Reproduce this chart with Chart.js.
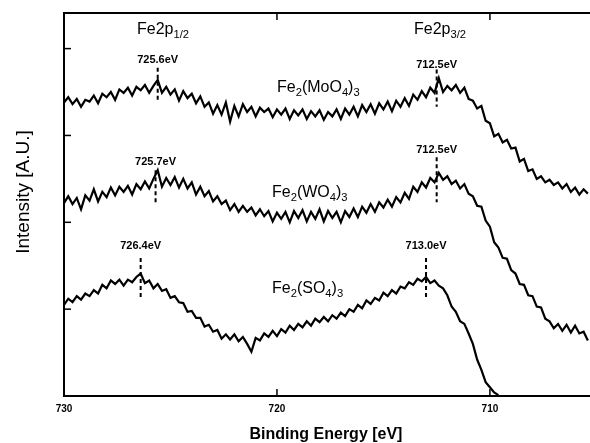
<!DOCTYPE html>
<html>
<head>
<meta charset="utf-8">
<script src="https://cdn.jsdelivr.net/npm/chart.js@4.4.1/dist/chart.umd.min.js"></script>
<style>
  html, body { margin: 0; padding: 0; background: #fff; }
  #wrap { width: 590px; height: 443px; position: relative; }
</style>
</head>
<body>
<div id="wrap"><canvas id="xps"></canvas></div>
<script>
// binding energy grid, eV (0.2 eV steps)
var energy = [
  730.0, 729.8, 729.6, 729.4, 729.2, 729.0, 728.8, 728.6, 728.4, 728.2,
  728.0, 727.8, 727.6, 727.4, 727.2, 727.0, 726.8, 726.6, 726.4, 726.2,
  726.0, 725.8, 725.6, 725.4, 725.2, 725.0, 724.8, 724.6, 724.4, 724.2,
  724.0, 723.8, 723.6, 723.4, 723.2, 723.0, 722.8, 722.6, 722.4, 722.2,
  722.0, 721.8, 721.6, 721.4, 721.2, 721.0, 720.8, 720.6, 720.4, 720.2,
  720.0, 719.8, 719.6, 719.4, 719.2, 719.0, 718.8, 718.6, 718.4, 718.2,
  718.0, 717.8, 717.6, 717.4, 717.2, 717.0, 716.8, 716.6, 716.4, 716.2,
  716.0, 715.8, 715.6, 715.4, 715.2, 715.0, 714.8, 714.6, 714.4, 714.2,
  714.0, 713.8, 713.6, 713.4, 713.2, 713.0, 712.8, 712.6, 712.4, 712.2,
  712.0, 711.8, 711.6, 711.4, 711.2, 711.0, 710.8, 710.6, 710.4, 710.2,
  710.0, 709.8, 709.6, 709.4, 709.2, 709.0, 708.8, 708.6, 708.4, 708.2,
  708.0, 707.8, 707.6, 707.4, 707.2, 707.0, 706.8, 706.6, 706.4, 706.2,
  706.0, 705.8, 705.6, 705.4
];

var moo4 = [
  3.38, 3.44, 3.36, 3.42, 3.33, 3.41, 3.39, 3.46, 3.37, 3.48,
  3.44, 3.50, 3.41, 3.53, 3.49, 3.55, 3.46, 3.56, 3.52, 3.58,
  3.49, 3.57, 3.64, 3.49, 3.56, 3.47, 3.53, 3.40, 3.51, 3.43,
  3.48, 3.37, 3.45, 3.33, 3.38, 3.25, 3.35, 3.24, 3.38, 3.16,
  3.34, 3.22, 3.36, 3.27, 3.33, 3.22, 3.32, 3.27, 3.31, 3.21,
  3.30, 3.24, 3.31, 3.19, 3.29, 3.23, 3.30, 3.19, 3.28, 3.22,
  3.29, 3.18, 3.27, 3.22, 3.30, 3.19, 3.31, 3.24, 3.33, 3.22,
  3.35, 3.27, 3.36, 3.25, 3.37, 3.30, 3.39, 3.28, 3.40, 3.33,
  3.43, 3.34, 3.47, 3.41, 3.51, 3.44, 3.55, 3.49, 3.66, 3.50,
  3.57, 3.52, 3.58, 3.49, 3.55, 3.42, 3.40, 3.31, 3.34, 3.17,
  3.14, 2.99, 3.02, 2.92, 2.95, 2.85, 2.86, 2.70, 2.73, 2.59,
  2.61, 2.50, 2.53, 2.46, 2.49, 2.43, 2.46, 2.39, 2.44, 2.35,
  2.40, 2.32, 2.38, 2.33
];

var wo4 = [
  2.22, 2.30, 2.21, 2.28, 2.15, 2.31, 2.25, 2.38, 2.24, 2.35,
  2.29, 2.40, 2.31, 2.41, 2.35, 2.42, 2.32, 2.44, 2.38, 2.47,
  2.39, 2.50, 2.60, 2.41, 2.51, 2.43, 2.52, 2.40, 2.50, 2.39,
  2.46, 2.32, 2.41, 2.30, 2.36, 2.24, 2.30, 2.21, 2.25, 2.14,
  2.21, 2.12, 2.19, 2.12, 2.17, 2.08, 2.15, 2.07, 2.13, 2.01,
  2.11, 2.04, 2.12, 2.00, 2.13, 2.05, 2.14, 2.01, 2.12, 2.04,
  2.15, 2.01, 2.13, 2.05, 2.12, 2.00, 2.13, 2.06, 2.16, 2.06,
  2.18, 2.11, 2.21, 2.12, 2.23, 2.17, 2.26, 2.18, 2.29, 2.23,
  2.34, 2.27, 2.41, 2.35, 2.46, 2.40, 2.51, 2.46, 2.57, 2.49,
  2.53, 2.44, 2.48, 2.39, 2.44, 2.33, 2.30, 2.19, 2.18, 2.02,
  1.95, 1.77, 1.71, 1.59, 1.58, 1.45, 1.41, 1.29, 1.28, 1.16,
  1.15, 1.03, 1.02, 0.89, 0.86, 0.78, 0.83, 0.75, 0.82, 0.73,
  0.81, 0.72, 0.74, 0.64
];

var so4 = [
  1.05, 1.12, 1.08, 1.15, 1.11, 1.18, 1.15, 1.22, 1.18, 1.28,
  1.24, 1.33, 1.29, 1.34, 1.27, 1.34, 1.31, 1.37, 1.41, 1.30,
  1.33, 1.24, 1.29, 1.21, 1.23, 1.13, 1.15, 1.08, 1.07, 0.97,
  0.98, 0.90, 0.90, 0.80, 0.82, 0.74, 0.76, 0.66, 0.71, 0.65,
  0.71, 0.63, 0.68, 0.60, 0.51, 0.67, 0.64, 0.72, 0.68, 0.75,
  0.69, 0.77, 0.73, 0.81, 0.76, 0.83, 0.79, 0.86, 0.81, 0.89,
  0.85, 0.91, 0.86, 0.93, 0.89, 0.96, 0.92, 1.00, 0.97, 1.05,
  1.01, 1.10, 1.06, 1.13, 1.10, 1.19, 1.15, 1.22, 1.18, 1.26,
  1.24, 1.31, 1.28, 1.35, 1.32, 1.37, 1.30, 1.33, 1.27, 1.24,
  1.16, 1.03, 0.97, 0.86, 0.83, 0.72, 0.60, 0.42, 0.30, 0.16,
  0.10, 0.04, 0.01
];

// marked peak positions, eV
var peakMoO4 = [725.6, 712.5];
var peakWO4 = [725.7, 712.5];
var peakSO4 = [726.4, 713.0];
var xTicks = [730, 720, 710];
var yTicks = [1, 2, 3, 4];

function toPoints(vals) {
  var pts = [];
  for (var i = 0; i < vals.length; i++) pts.push({ x: energy[i], y: vals[i] });
  return pts;
}

var FONT = '"Liberation Sans", Arial, sans-serif';

// text with subscripts: parts = [[text, isSub], ...]
function richText(ctx, parts, x, y, size) {
  var cx = x;
  parts.forEach(function(p) {
    var s = p[1] ? size * 0.7 : size;
    ctx.font = s + 'px ' + FONT;
    ctx.fillText(p[0], cx, p[1] ? y + size * 0.25 : y);
    cx += ctx.measureText(p[0]).width;
  });
}

var decorPlugin = {
  id: 'decor',
  afterDraw: function(chart) {
    var ctx = chart.ctx;
    var a = chart.chartArea;
    var xs = chart.scales.x, ys = chart.scales.y;
    ctx.save();
    ctx.strokeStyle = '#000';
    ctx.fillStyle = '#000';

    // frame
    ctx.lineWidth = 2;
    ctx.beginPath();
    ctx.moveTo(a.right + 2, a.top);
    ctx.lineTo(a.left, a.top);
    ctx.lineTo(a.left, a.bottom);
    ctx.lineTo(a.right + 2, a.bottom);
    ctx.stroke();

    // inward ticks
    ctx.lineWidth = 1.5;
    xTicks.forEach(function(t) {
      var px = xs.getPixelForValue(t);
      ctx.beginPath();
      ctx.moveTo(px, a.bottom); ctx.lineTo(px, a.bottom - 7);
      ctx.moveTo(px, a.top); ctx.lineTo(px, a.top + 7);
      ctx.stroke();
    });
    yTicks.forEach(function(t) {
      var py = ys.getPixelForValue(t);
      ctx.beginPath();
      ctx.moveTo(a.left, py); ctx.lineTo(a.left + 7, py);
      ctx.stroke();
    });

    // peak markers: [energy, label y, dash top, dash bottom]
    var marks = [
      [peakMoO4[0], 3.83, 3.78, 3.41],
      [peakMoO4[1], 3.78, 3.76, 3.33],
      [peakWO4[0], 2.66, 2.60, 2.20],
      [peakWO4[1], 2.80, 2.75, 2.23],
      [peakSO4[0], 1.69, 1.59, 1.11],
      [peakSO4[1], 1.69, 1.59, 1.12]
    ];
    ctx.textAlign = 'center';
    ctx.textBaseline = 'alphabetic';
    marks.forEach(function(m) {
      var px = xs.getPixelForValue(m[0]);
      ctx.font = 'bold 11px ' + FONT;
      ctx.fillText(m[0].toFixed(1) + 'eV', px, ys.getPixelForValue(m[1]));
      ctx.setLineDash([4, 3]);
      ctx.lineWidth = 2;
      ctx.beginPath();
      ctx.moveTo(px, ys.getPixelForValue(m[2]));
      ctx.lineTo(px, ys.getPixelForValue(m[3]));
      ctx.stroke();
      ctx.setLineDash([]);
    });

    // level headers
    ctx.textAlign = 'left';
    richText(ctx, [['Fe2p', false], ['1/2', true]], 137, 34, 16);
    richText(ctx, [['Fe2p', false], ['3/2', true]], 414, 34, 16);

    // compound names
    richText(ctx, [['Fe', false], ['2', true], ['(MoO', false], ['4', true], [')', false], ['3', true]], 277, 92, 16);
    richText(ctx, [['Fe', false], ['2', true], ['(WO', false], ['4', true], [')', false], ['3', true]], 272, 197, 16);
    richText(ctx, [['Fe', false], ['2', true], ['(SO', false], ['4', true], [')', false], ['3', true]], 272, 293, 16);

    // axis titles
    ctx.textAlign = 'center';
    ctx.font = '600 16px ' + FONT;
    ctx.fillText('Binding Energy [eV]', 326, 439);
    ctx.save();
    ctx.translate(29, 192);
    ctx.rotate(-Math.PI / 2);
    ctx.font = '19px ' + FONT;
    ctx.fillText('Intensity [A.U.]', 0, 0);
    ctx.restore();

    ctx.restore();
  }
};

function lineSet(vals) {
  return {
    data: toPoints(vals),
    borderColor: '#000',
    borderWidth: 2.2,
    pointRadius: 0,
    tension: 0,
    fill: false
  };
}

new Chart(document.getElementById('xps'), {
  type: 'line',
  data: { datasets: [lineSet(moo4), lineSet(wo4), lineSet(so4)] },
  plugins: [decorPlugin],
  options: {
    responsive: true,
    maintainAspectRatio: false,
    animation: false,
    layout: { padding: { top: 13, left: 64, right: 0, bottom: 21 } },
    plugins: { legend: { display: false }, tooltip: { enabled: false } },
    scales: {
      x: {
        type: 'linear',
        reverse: true,
        min: 705.3,
        max: 730,
        grid: { display: false, drawTicks: false },
        border: { display: false },
        ticks: {
          stepSize: 10,
          includeBounds: false,
          padding: 7,
          color: '#000',
          font: { family: FONT, size: 10, weight: 'bold' }
        }
      },
      y: {
        display: false,
        min: 0,
        max: 4.41
      }
    }
  }
});
</script>
</body>
</html>
